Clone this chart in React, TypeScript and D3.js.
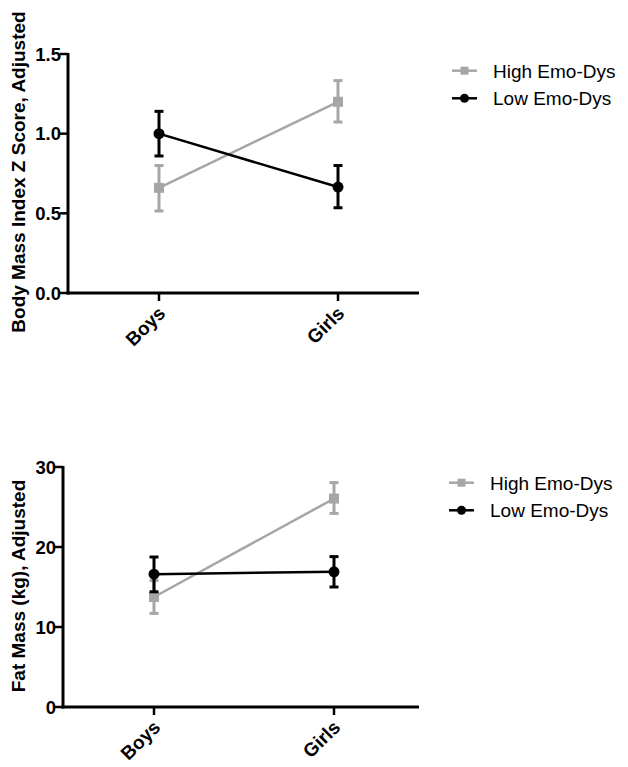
import React from "react";
import * as d3 from "d3";

const categories = ["Boys", "Girls"];
const seriesNames = ["High Emo-Dys", "Low Emo-Dys"];

// Panel 1: BMI z score
const bmiHigh = [0.66, 1.2];
const bmiHighLo = [0.515, 1.073];
const bmiHighHi = [0.8, 1.333];
const bmiLow = [1.0, 0.665];
const bmiLowLo = [0.86, 0.535];
const bmiLowHi = [1.14, 0.8];
const bmiTicks = [0, 0.5, 1.0, 1.5];

// Panel 2: Fat mass
const fmHigh = [13.75, 26.05];
const fmHighLo = [11.7, 24.2];
const fmHighHi = [15.8, 28.05];
const fmLow = [16.6, 16.9];
const fmLowLo = [14.4, 15.0];
const fmLowHi = [18.75, 18.8];
const fmTicks = [0, 10, 20, 30];

const GRAY = "#a6a6a6";
const BLACK = "#000";
const FONT = "'Liberation Sans', Arial, sans-serif";

type Series = { mean: number[]; lo: number[]; hi: number[]; color: string; shape: "square" | "circle" };

function Panel(props: {
  x0: number; x1: number; yTop: number; yBottom: number; ptRange: [number, number];
  domain: [number, number]; ticks: number[]; fmt: (v: number) => string;
  label: string; labelY: number; series: Series[]; legendX: number; legendY: number;
}) {
  const { x0, x1, yTop, yBottom, ptRange, domain, ticks, fmt, label, labelY, series, legendX, legendY } = props;
  const y = d3.scaleLinear().domain(domain).range([yBottom, yTop]);
  const x = d3.scalePoint<string>().domain(categories).range(ptRange);
  const line = d3.line<number>().x((_, i) => x(categories[i])!).y((d) => y(d));
  return (
    <g>
      {series.map((s, si) => (
        <g key={si}>
          <path d={line(s.mean) || ""} fill="none" stroke={s.color} strokeWidth={2.5} />
          {s.mean.map((m, i) => {
            const cx = x(categories[i])!;
            return (
              <g key={i}>
                <line x1={cx} x2={cx} y1={y(s.lo[i])} y2={y(s.hi[i])} stroke={s.color} strokeWidth={3} />
                <line x1={cx - 4.5} x2={cx + 4.5} y1={y(s.lo[i])} y2={y(s.lo[i])} stroke={s.color} strokeWidth={3} />
                <line x1={cx - 4.5} x2={cx + 4.5} y1={y(s.hi[i])} y2={y(s.hi[i])} stroke={s.color} strokeWidth={3} />
                {s.shape === "square" ? (
                  <rect x={cx - 5} y={y(m) - 5} width={10} height={10} fill={s.color} />
                ) : (
                  <circle cx={cx} cy={y(m)} r={5.5} fill={s.color} />
                )}
              </g>
            );
          })}
        </g>
      ))}
      <line x1={x0} x2={x0} y1={yTop - 1} y2={yBottom + 1.5} stroke="#000" strokeWidth={3} />
      <line x1={x0 - 1.5} x2={x1} y1={yBottom} y2={yBottom} stroke="#000" strokeWidth={3} />
      {ticks.map((t) => (
        <g key={t}>
          <line x1={x0 - 8} x2={x0} y1={y(t)} y2={y(t)} stroke="#000" strokeWidth={2.5} />
          <text x={x0 - 7} y={y(t)} dy="0.36em" textAnchor="end" fontFamily={FONT} fontWeight="bold" fontSize={18.5}>
            {fmt(t)}
          </text>
        </g>
      ))}
      {categories.map((c) => (
        <g key={c}>
          <line x1={x(c)!} x2={x(c)!} y1={yBottom} y2={yBottom + 8} stroke="#000" strokeWidth={2.5} />
          <text
            transform={`translate(${x(c)! - 2},${yBottom + 12}) rotate(-45)`}
            textAnchor="end"
            dy="0.7em"
            fontFamily={FONT}
            fontWeight="bold"
            fontSize={19}
          >
            {c}
          </text>
        </g>
      ))}
      <text
        transform={`translate(25,${labelY}) rotate(-90)`}
        textAnchor="middle"
        fontFamily={FONT}
        fontWeight="bold"
        fontSize={19}
      >
        {label}
      </text>
      {series.map((s, si) => {
        const ly = legendY + si * 27.6;
        return (
          <g key={si}>
            <line x1={legendX} x2={legendX + 25} y1={ly} y2={ly} stroke={s.color} strokeWidth={2.5} />
            {s.shape === "square" ? (
              <rect x={legendX + 12.5 - 4} y={ly - 4} width={8} height={8} fill={s.color} />
            ) : (
              <circle cx={legendX + 12.5} cy={ly} r={4.5} fill={s.color} />
            )}
            <text x={legendX + 41} y={ly} dy="0.36em" fontFamily={FONT} fontSize={19}>
              {seriesNames[si]}
            </text>
          </g>
        );
      })}
    </g>
  );
}

export default function App() {
  const s1: Series[] = [
    { mean: bmiHigh, lo: bmiHighLo, hi: bmiHighHi, color: GRAY, shape: "square" },
    { mean: bmiLow, lo: bmiLowLo, hi: bmiLowHi, color: BLACK, shape: "circle" },
  ];
  const s2: Series[] = [
    { mean: fmHigh, lo: fmHighLo, hi: fmHighHi, color: GRAY, shape: "square" },
    { mean: fmLow, lo: fmLowLo, hi: fmLowHi, color: BLACK, shape: "circle" },
  ];
  return (
    <svg width={628} height={767} style={{ position: "absolute", left: 0, top: 0, background: "#fff" }}>
      <rect width={628} height={767} fill="#fff" />
      <Panel
        x0={68} x1={419} yTop={54} yBottom={293} ptRange={[159, 338]}
        domain={[0, 1.5]} ticks={bmiTicks} fmt={(v) => v.toFixed(1)}
        label="Body Mass Index Z Score, Adjusted" labelY={172}
        series={s1} legendX={452} legendY={70.7}
      />
      <Panel
        x0={63} x1={419} yTop={467} yBottom={707} ptRange={[154, 334]}
        domain={[0, 30]} ticks={fmTicks} fmt={(v) => String(v)}
        label="Fat Mass (kg), Adjusted" labelY={586}
        series={s2} legendX={449} legendY={482.7}
      />
    </svg>
  );
}
